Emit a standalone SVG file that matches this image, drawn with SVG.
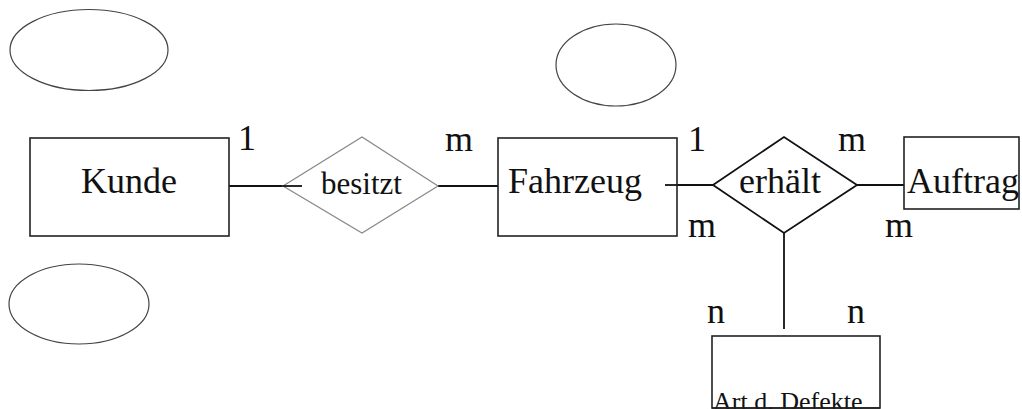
<svg xmlns="http://www.w3.org/2000/svg" width="1022" height="409" viewBox="0 0 1022 409">
  <style>
    .entity { fill: #fff; stroke: #222; stroke-width: 1.6; }
    .rel { fill: #fff; stroke: #111; stroke-width: 1.8; }
    .rel-light { fill: #fff; stroke: #888; stroke-width: 1.2; }
    .attr { fill: #fff; stroke: #444; stroke-width: 1.2; }
    .link { stroke: #111; stroke-width: 1.8; fill: none; }
    .txt { font-family: "Liberation Serif", "Times New Roman", serif; fill: #111; }
    .big { font-size: 36px; }
    .mid { font-size: 31px; }
    .small { font-size: 26px; }
  </style>
  <rect width="1022" height="409" fill="#fff"/>

  <!-- attribute ellipses -->
  <g id="attr1"><ellipse class="attr" cx="89" cy="50" rx="79" ry="40.5"/></g>
  <g id="attr2"><ellipse class="attr" cx="616" cy="65" rx="60" ry="41"/></g>
  <g id="attr3"><ellipse class="attr" cx="79" cy="304" rx="70" ry="40"/></g>

  <!-- connectors -->
  <g id="connectors">
    <line class="link" x1="225" y1="186" x2="302" y2="186"/>
    <line class="link" x1="438" y1="186" x2="498" y2="186"/>
    <line class="link" x1="665" y1="185" x2="713" y2="185"/>
    <line class="link" x1="857" y1="185" x2="904" y2="185"/>
    <line class="link" x1="784" y1="233" x2="784" y2="329"/>
  </g>

  <g id="kunde">
    <rect class="entity" x="30" y="138" width="199" height="98"/>
    <text class="txt big" x="81" y="193">Kunde</text>
  </g>

  <g id="besitzt">
    <polygon class="rel-light" points="283,186 362,137 438,186 362,233"/>
    <line class="link" x1="283" y1="186" x2="302" y2="186"/>
    <text class="txt mid" x="321" y="194">besitzt</text>
  </g>

  <g id="fahrzeug">
    <rect class="entity" x="498" y="138" width="179" height="98"/>
    <text class="txt big" x="508" y="193">Fahrzeug</text>
    <line class="link" x1="665" y1="185" x2="677" y2="185"/>
  </g>

  <g id="erhaelt">
    <polygon class="rel" points="713,185 784,137 857,185 784,233"/>
    <text class="txt big" x="739" y="193">erhält</text>
  </g>

  <g id="auftrag">
    <rect class="entity" x="904" y="137" width="115" height="72"/>
    <text class="txt big" x="907" y="193">Auftrag</text>
  </g>

  <g id="art-defekte">
    <rect class="entity" x="712" y="336" width="168" height="72"/>
    <text class="txt small" x="713" y="410">Art d. Defekte</text>
    <line x1="712" y1="408" x2="880" y2="408" stroke="#222" stroke-width="1.6"/>
  </g>

  <!-- cardinalities -->
  <g id="cardinalities" class="txt big">
    <text x="238" y="150">1</text>
    <text x="445" y="151">m</text>
    <text x="688" y="151">1</text>
    <text x="688" y="237">m</text>
    <text x="838" y="151">m</text>
    <text x="885" y="237">m</text>
    <text x="707" y="323">n</text>
    <text x="847" y="323">n</text>
  </g>
</svg>
